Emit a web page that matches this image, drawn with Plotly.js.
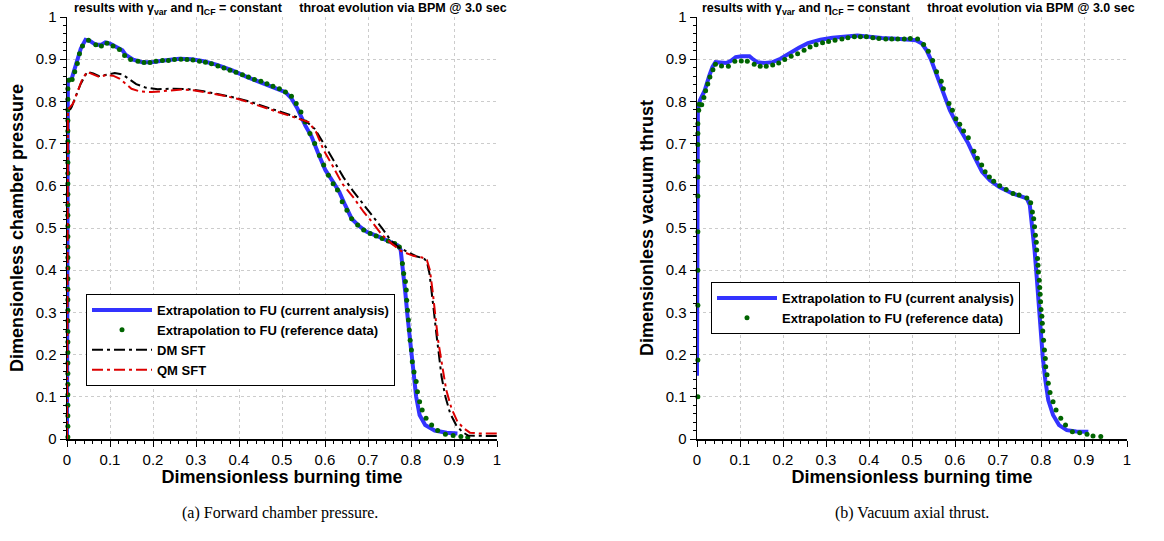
<!DOCTYPE html>
<html>
<head>
<meta charset="utf-8">
<script src="https://cdn.plot.ly/plotly-3.0.1.min.js"></script>
<style>html,body{margin:0;padding:0;background:#fff;}#chart{width:1164px;height:541px;}</style>
</head>
<body>
<div id="chart"></div>
<script>
// ---------- (a) Forward chamber pressure ----------
var pcCurT = [0, 0.002, 0.011, 0.021, 0.032, 0.043, 0.054, 0.067, 0.079, 0.089, 0.100, 0.118, 0.129, 0.136, 0.154, 0.175, 0.197, 0.225, 0.261, 0.290, 0.318, 0.347, 0.383, 0.418, 0.454, 0.483, 0.508, 0.522, 0.536, 0.554, 0.569, 0.583, 0.601, 0.619, 0.633, 0.647, 0.662, 0.680, 0.697, 0.726, 0.751, 0.769, 0.776, 0.782, 0.787, 0.792, 0.798, 0.805, 0.812, 0.820, 0.833, 0.855, 0.883, 0.908];
var pcCurV = [0, 0.850, 0.854, 0.889, 0.925, 0.946, 0.943, 0.934, 0.934, 0.940, 0.937, 0.927, 0.921, 0.911, 0.899, 0.893, 0.893, 0.897, 0.901, 0.900, 0.895, 0.887, 0.874, 0.858, 0.844, 0.833, 0.822, 0.807, 0.783, 0.743, 0.716, 0.680, 0.637, 0.609, 0.586, 0.554, 0.522, 0.504, 0.491, 0.479, 0.467, 0.459, 0.448, 0.400, 0.345, 0.290, 0.227, 0.163, 0.100, 0.057, 0.033, 0.020, 0.015, 0.013];

var pcRefT = [0.002, 0.002, 0.002, 0.002, 0.002, 0.002, 0.002, 0.002, 0.002, 0.002, 0.002, 0.002, 0.002, 0.002, 0.002, 0.002, 0.002, 0.002, 0.002, 0.002, 0.002, 0.002, 0.002, 0.002, 0.002, 0.002, 0.002, 0.002, 0.002, 0.002, 0.002, 0.002, 0.002, 0.002,
  0.004, 0.012, 0.018, 0.024, 0.029, 0.036, 0.050, 0.067, 0.080, 0.093, 0.107, 0.122, 0.134, 0.148, 0.165, 0.179, 0.193, 0.207, 0.222, 0.236, 0.250, 0.265, 0.279, 0.293, 0.308, 0.322, 0.336, 0.351, 0.365, 0.379, 0.393, 0.408, 0.422, 0.436, 0.451, 0.465, 0.479, 0.494, 0.508, 0.522, 0.533, 0.544, 0.554, 0.565, 0.576, 0.587, 0.597, 0.608, 0.619, 0.629, 0.640, 0.651, 0.662, 0.676, 0.690, 0.705, 0.719, 0.733, 0.747, 0.762, 0.773, 0.780, 0.783, 0.787, 0.789, 0.790, 0.792, 0.794, 0.796, 0.798, 0.801, 0.803, 0.807, 0.812, 0.815, 0.820, 0.826, 0.835, 0.848, 0.862, 0.880, 0.898, 0.916, 0.932];
var pcRefV = [0.005, 0.030, 0.055, 0.080, 0.105, 0.130, 0.155, 0.180, 0.205, 0.230, 0.255, 0.280, 0.305, 0.330, 0.355, 0.380, 0.405, 0.430, 0.455, 0.480, 0.505, 0.530, 0.555, 0.580, 0.605, 0.630, 0.655, 0.680, 0.705, 0.730, 0.755, 0.780, 0.805, 0.830,
  0.850, 0.852, 0.870, 0.890, 0.913, 0.931, 0.945, 0.934, 0.931, 0.938, 0.931, 0.923, 0.909, 0.899, 0.895, 0.892, 0.892, 0.895, 0.897, 0.897, 0.899, 0.900, 0.899, 0.898, 0.895, 0.893, 0.889, 0.884, 0.879, 0.874, 0.869, 0.863, 0.858, 0.852, 0.848, 0.842, 0.836, 0.830, 0.822, 0.812, 0.795, 0.775, 0.751, 0.724, 0.700, 0.672, 0.649, 0.625, 0.605, 0.590, 0.562, 0.542, 0.522, 0.507, 0.495, 0.487, 0.481, 0.475, 0.469, 0.463, 0.455, 0.416, 0.392, 0.373, 0.353, 0.329, 0.305, 0.282, 0.258, 0.234, 0.211, 0.183, 0.159, 0.136, 0.112, 0.088, 0.069, 0.049, 0.033, 0.020, 0.011, 0.008, 0.006, 0.004];

var dmT = [0, 0.001, 0.011, 0.021, 0.032, 0.047, 0.061, 0.075, 0.093, 0.111, 0.129, 0.143, 0.161, 0.182, 0.211, 0.247, 0.283, 0.318, 0.354, 0.390, 0.426, 0.461, 0.497, 0.533, 0.558, 0.576, 0.600, 0.620, 0.643, 0.665, 0.690, 0.712, 0.733, 0.752, 0.769, 0.790, 0.812, 0.830, 0.837, 0.843, 0.848, 0.853, 0.858, 0.864, 0.871, 0.880, 0.891, 0.905, 0.919, 0.933, 0.960, 1.000];
var dmV = [0, 0.770, 0.787, 0.815, 0.842, 0.870, 0.866, 0.860, 0.864, 0.867, 0.864, 0.854, 0.841, 0.833, 0.829, 0.830, 0.829, 0.824, 0.817, 0.809, 0.799, 0.787, 0.775, 0.763, 0.751, 0.735, 0.695, 0.660, 0.620, 0.588, 0.556, 0.527, 0.499, 0.472, 0.456, 0.444, 0.433, 0.428, 0.420, 0.392, 0.353, 0.305, 0.258, 0.203, 0.148, 0.100, 0.061, 0.033, 0.017, 0.008, 0.007, 0.007];

var qmT = [0, 0.002, 0.014, 0.025, 0.036, 0.047, 0.061, 0.075, 0.089, 0.107, 0.122, 0.136, 0.150, 0.168, 0.197, 0.232, 0.268, 0.297, 0.333, 0.368, 0.404, 0.440, 0.476, 0.511, 0.540, 0.562, 0.579, 0.597, 0.619, 0.640, 0.665, 0.690, 0.712, 0.733, 0.755, 0.776, 0.805, 0.826, 0.837, 0.844, 0.850, 0.856, 0.863, 0.873, 0.882, 0.894, 0.908, 0.923, 0.937, 0.960, 1.000];
var qmV = [0, 0.780, 0.795, 0.826, 0.854, 0.870, 0.864, 0.858, 0.862, 0.861, 0.854, 0.842, 0.830, 0.824, 0.822, 0.825, 0.828, 0.826, 0.820, 0.813, 0.804, 0.792, 0.779, 0.767, 0.759, 0.751, 0.728, 0.684, 0.645, 0.605, 0.574, 0.538, 0.511, 0.483, 0.463, 0.446, 0.434, 0.430, 0.424, 0.400, 0.353, 0.298, 0.234, 0.171, 0.116, 0.073, 0.041, 0.025, 0.015, 0.013, 0.013];

// ---------- (b) Vacuum axial thrust ----------
var thCurT = [0, 0.001, 0.002, 0.007, 0.018, 0.029, 0.036, 0.043, 0.054, 0.068, 0.079, 0.090, 0.104, 0.122, 0.129, 0.140, 0.158, 0.176, 0.194, 0.215, 0.237, 0.258, 0.287, 0.315, 0.344, 0.373, 0.401, 0.430, 0.473, 0.509, 0.523, 0.534, 0.545, 0.559, 0.573, 0.588, 0.602, 0.616, 0.631, 0.645, 0.663, 0.681, 0.703, 0.731, 0.753, 0.767, 0.774, 0.780, 0.785, 0.790, 0.794, 0.799, 0.804, 0.810, 0.817, 0.828, 0.842, 0.860, 0.882, 0.910];
var thCurV = [0.150, 0.600, 0.779, 0.803, 0.826, 0.862, 0.882, 0.893, 0.893, 0.891, 0.896, 0.905, 0.907, 0.907, 0.901, 0.893, 0.891, 0.893, 0.901, 0.915, 0.927, 0.938, 0.946, 0.951, 0.954, 0.956, 0.953, 0.950, 0.948, 0.945, 0.937, 0.921, 0.897, 0.858, 0.818, 0.779, 0.751, 0.728, 0.700, 0.669, 0.633, 0.613, 0.597, 0.583, 0.575, 0.570, 0.554, 0.503, 0.448, 0.384, 0.321, 0.258, 0.195, 0.140, 0.092, 0.057, 0.033, 0.021, 0.018, 0.017];

var thRefT = [0.002, 0.002, 0.002, 0.002, 0.002, 0.002, 0.002, 0.002, 0.002, 0.002, 0.002, 0.004, 0.005,
  0.011, 0.016, 0.020, 0.025, 0.030, 0.037, 0.043, 0.057, 0.073, 0.088, 0.103, 0.117, 0.133, 0.147, 0.161, 0.176, 0.190, 0.204, 0.219, 0.234, 0.249, 0.263, 0.277, 0.292, 0.306, 0.321, 0.337, 0.351, 0.366, 0.380, 0.394, 0.409, 0.423, 0.439, 0.453, 0.467, 0.482, 0.496, 0.513, 0.527, 0.538, 0.548, 0.557, 0.568, 0.573, 0.586, 0.594, 0.602, 0.611, 0.620, 0.631, 0.644, 0.652, 0.662, 0.670, 0.680, 0.690, 0.704, 0.719, 0.735, 0.749, 0.767, 0.776, 0.780, 0.783, 0.785, 0.787, 0.789, 0.790, 0.792, 0.793, 0.794, 0.796, 0.797, 0.798, 0.799, 0.800, 0.802, 0.803, 0.804, 0.806, 0.808, 0.810, 0.811, 0.814, 0.817, 0.821, 0.828, 0.835, 0.846, 0.857, 0.873, 0.890, 0.907, 0.921, 0.939];
var thRefV = [0.100, 0.187, 0.317, 0.400, 0.491, 0.576, 0.621, 0.658, 0.698, 0.724, 0.747, 0.779, 0.793,
  0.792, 0.809, 0.825, 0.841, 0.858, 0.875, 0.888, 0.884, 0.883, 0.895, 0.896, 0.895, 0.888, 0.883, 0.883, 0.886, 0.891, 0.899, 0.907, 0.913, 0.921, 0.929, 0.934, 0.939, 0.942, 0.945, 0.948, 0.951, 0.953, 0.953, 0.953, 0.951, 0.949, 0.948, 0.948, 0.948, 0.948, 0.949, 0.948, 0.935, 0.919, 0.897, 0.870, 0.848, 0.830, 0.795, 0.779, 0.759, 0.746, 0.730, 0.714, 0.682, 0.665, 0.649, 0.633, 0.621, 0.611, 0.600, 0.591, 0.582, 0.578, 0.571, 0.560, 0.538, 0.522, 0.503, 0.483, 0.466, 0.448, 0.428, 0.412, 0.396, 0.376, 0.359, 0.343, 0.325, 0.307, 0.291, 0.274, 0.256, 0.234, 0.211, 0.191, 0.171, 0.152, 0.132, 0.110, 0.088, 0.069, 0.049, 0.033, 0.017, 0.015, 0.011, 0.007, 0.006];

var legendNames = ['Extrapolation to FU (current analysis)', 'Extrapolation to FU (reference data)', 'DM SFT', 'QM SFT'];
var axisTitles = {x: 'Dimensionless burning time', yLeft: 'Dimensionless chamber pressure', yRight: 'Dimensionless vacuum thrust'};
var headerText = 'results with \u03b3<sub>var</sub> and \u03b7<sub>CF</sub> = constant&nbsp;&nbsp;&nbsp;&nbsp;&nbsp;throat evolution via BPM @ 3.0 sec';
var captions = ['(a) Forward chamber pressure.', '(b) Vacuum axial thrust.'];

var BLUE = 'rgb(51,51,255)', GREEN = 'rgb(0,100,0)', RED = 'rgb(220,0,0)';
var DASHDOT = '11px,4px,3px,4px';

var traces = [
  {x: pcCurT, y: pcCurV, mode: 'lines', name: legendNames[0], line: {color: BLUE, width: 4}, xaxis: 'x', yaxis: 'y', legend: 'legend'},
  {x: pcRefT, y: pcRefV, mode: 'markers', name: legendNames[1], marker: {color: GREEN, size: 5}, xaxis: 'x', yaxis: 'y', legend: 'legend', cliponaxis: false},
  {x: dmT, y: dmV, mode: 'lines', name: legendNames[2], line: {color: '#000', width: 2, dash: DASHDOT}, xaxis: 'x', yaxis: 'y', legend: 'legend'},
  {x: qmT, y: qmV, mode: 'lines', name: legendNames[3], line: {color: RED, width: 2, dash: DASHDOT}, xaxis: 'x', yaxis: 'y', legend: 'legend'},
  {x: thCurT, y: thCurV, mode: 'lines', name: legendNames[0], line: {color: BLUE, width: 4}, xaxis: 'x2', yaxis: 'y2', legend: 'legend2'},
  {x: thRefT, y: thRefV, mode: 'markers', name: legendNames[1], marker: {color: GREEN, size: 5}, xaxis: 'x2', yaxis: 'y2', legend: 'legend2', cliponaxis: false}
];

function axis(extra) {
  var a = {
    range: [0, 1], tick0: 0, dtick: 0.1, ticks: 'outside', ticklen: 6, tickwidth: 1, tickcolor: '#000',
    showline: true, linecolor: '#000', linewidth: 1.5, zeroline: false, mirror: false,
    showgrid: true, gridcolor: '#cccccc', griddash: 'dot', gridwidth: 1,
    minor: {dtick: 0.02, ticks: 'outside', ticklen: 3, tickcolor: '#000', tickwidth: 1, showgrid: false},
    tickfont: {size: 15, color: '#000', family: 'Liberation Sans'},
    automargin: false, fixedrange: true
  };
  for (var k in extra) a[k] = extra[k];
  return a;
}
var titleFont = {size: 18, color: '#000', family: 'Liberation Sans', weight: 'bold'};
var legendStyle = {bgcolor: '#ffffff', bordercolor: '#000', borderwidth: 1, xanchor: 'left', yanchor: 'top',
  font: {size: 13, color: '#000', family: 'Liberation Sans', weight: 'bold'}, itemwidth: 60, tracegroupgap: 0};

var layout = {
  width: 1164, height: 541, margin: {l: 0, r: 0, t: 0, b: 0}, paper_bgcolor: '#fff', plot_bgcolor: '#fff',
  font: {family: 'Liberation Sans', color: '#000'}, showlegend: true,
  xaxis: axis({domain: [67/1164, 497/1164], anchor: 'y', title: {text: axisTitles.x, font: titleFont, standoff: 3}}),
  yaxis: axis({domain: [102/541, 524/541], anchor: 'x', title: {text: axisTitles.yLeft, font: titleFont, standoff: 7}}),
  xaxis2: axis({domain: [697/1164, 1127/1164], anchor: 'y2', title: {text: axisTitles.x, font: titleFont, standoff: 3}}),
  yaxis2: axis({domain: [102/541, 524/541], anchor: 'x2', title: {text: axisTitles.yRight, font: titleFont, standoff: 7}}),
  legend: Object.assign({x: 86/1164, y: 1 - 294/541}, legendStyle),
  legend2: Object.assign({x: 711/1164, y: 1 - 282/541}, legendStyle),
  annotations: [
    {text: headerText, xref: 'paper', yref: 'paper', x: 72/1164, y: 1 - 9/541, xanchor: 'left', yanchor: 'middle', showarrow: false,
     font: {size: 12.5, color: '#000', family: 'Liberation Sans', weight: 'bold'}},
    {text: headerText, xref: 'paper', yref: 'paper', x: 700/1164, y: 1 - 9/541, xanchor: 'left', yanchor: 'middle', showarrow: false,
     font: {size: 12.5, color: '#000', family: 'Liberation Sans', weight: 'bold'}},
    {text: captions[0], xref: 'paper', yref: 'paper', x: 280/1164, y: 1 - 513/541, xanchor: 'center', yanchor: 'middle', showarrow: false,
     font: {size: 16, color: '#000', family: 'Liberation Serif'}},
    {text: captions[1], xref: 'paper', yref: 'paper', x: 912/1164, y: 1 - 513/541, xanchor: 'center', yanchor: 'middle', showarrow: false,
     font: {size: 16, color: '#000', family: 'Liberation Serif'}}
  ]
};

Plotly.newPlot('chart', traces, layout, {displayModeBar: false, staticPlot: true});
</script>
</body>
</html>
